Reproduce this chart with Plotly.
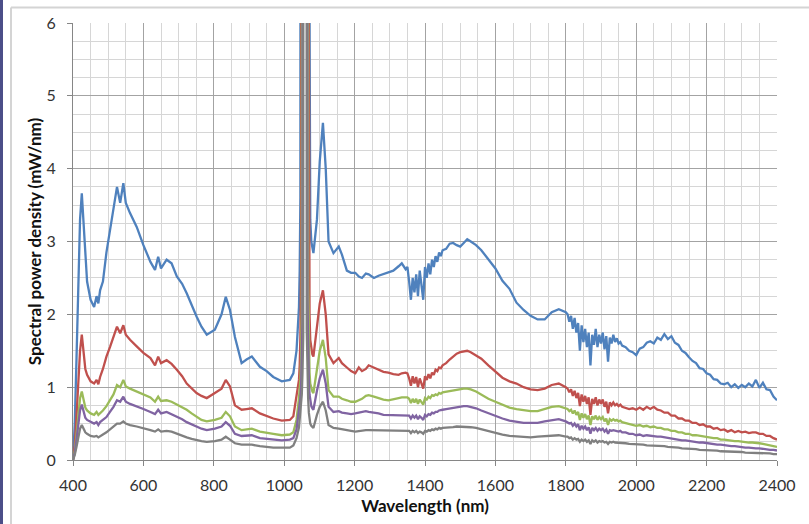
import plotly.graph_objects as go

# Wavelength samples (nm)
wavelength_nm = [
    400, 405, 410, 415, 420, 425, 430, 435, 440, 450,
    460, 467, 472, 477, 485, 495, 505, 515, 525, 534,
    543, 550, 562, 581, 600, 620, 633, 642, 650, 666,
    680, 695, 710, 723, 737, 751, 765, 780, 803, 822,
    834, 846, 860, 879, 893, 908, 931, 950, 969, 993,
    1016, 1026, 1035, 1042,
    1044, 1046, 1048, 1050, 1052, 1054, 1056, 1058, 1060, 1062,
    1064, 1066, 1068, 1070, 1072, 1074, 1077, 1080, 1083,
    1093, 1101, 1110, 1118, 1126, 1140, 1155, 1164, 1178, 1190,
    1202, 1212, 1221, 1232, 1240, 1255, 1268, 1282, 1296, 1310,
    1325, 1334, 1345, 1350,
    1355, 1360, 1365, 1370, 1375, 1380, 1385, 1390, 1395, 1400,
    1405, 1410, 1415, 1420, 1425, 1430, 1435, 1440, 1445, 1450,
    1460, 1470, 1480, 1490, 1500, 1510, 1520, 1530, 1545, 1560,
    1580, 1600, 1620, 1640, 1660, 1680, 1700, 1720, 1740, 1760,
    1780, 1800,
    1805, 1810, 1815, 1820, 1825, 1830, 1835, 1840, 1845, 1850,
    1855, 1860, 1865, 1870, 1875, 1880, 1885, 1890, 1895, 1900,
    1905, 1910, 1915, 1920, 1925, 1930, 1935, 1940, 1945, 1950,
    1955, 1960,
    1970, 1980, 1990, 2000, 2010, 2020, 2030, 2040, 2050, 2060,
    2070, 2080, 2090, 2100, 2110, 2120, 2130, 2140, 2150, 2160,
    2170, 2180, 2190, 2200, 2210, 2220, 2230, 2240, 2250, 2260,
    2270, 2280, 2290, 2300, 2310, 2320, 2330, 2340, 2350, 2360,
    2370, 2380, 2390, 2400,
]

# Spectral power density (mW/nm), five measurements
series_blue = [
    0.0, 0.5, 1.4, 2.5, 3.3, 3.66, 3.2, 2.75, 2.45, 2.2,
    2.1, 2.25, 2.15, 2.33, 2.45, 2.85, 3.15, 3.45, 3.75, 3.53,
    3.8, 3.53, 3.39, 3.2, 2.95, 2.72, 2.61, 2.79, 2.63, 2.75,
    2.7, 2.52, 2.42, 2.29, 2.12, 1.97, 1.83, 1.72, 1.79, 2.0,
    2.24, 2.06, 1.69, 1.33, 1.38, 1.42, 1.28, 1.22, 1.14, 1.08,
    1.1, 1.19, 1.5, 2.1,
    2.6, 3.6, 40, 40, 40, 40, 40, 40, 40, 40,
    40, 40, 40, 40, 4.2, 3.3, 3.0, 2.9, 2.84,
    3.3, 4.1, 4.63, 4.0, 3.0, 2.84, 2.93, 2.82, 2.6, 2.57,
    2.57, 2.52, 2.5, 2.56, 2.55, 2.5, 2.53, 2.55, 2.57, 2.6,
    2.66, 2.7, 2.62, 2.65,
    2.45, 2.2, 2.5, 2.3, 2.55, 2.25, 2.6, 2.4, 2.2, 2.65,
    2.5, 2.7, 2.55, 2.75, 2.65, 2.8, 2.72, 2.85, 2.8, 2.88,
    2.9, 2.97, 2.98, 2.95, 2.93, 2.98, 3.03, 3.0, 2.95, 2.88,
    2.76, 2.63, 2.46, 2.35, 2.16, 2.06, 1.98, 1.93, 1.93, 2.03,
    2.07, 2.03,
    2.0, 1.9, 1.98, 1.8, 1.95, 1.75, 1.88, 1.5, 1.85, 1.62,
    1.8, 1.55, 1.75, 1.3, 1.72, 1.58, 1.8, 1.55, 1.72, 1.6,
    1.75, 1.52, 1.7, 1.35, 1.68, 1.6, 1.72, 1.62, 1.67, 1.6,
    1.62, 1.57,
    1.55, 1.5, 1.48, 1.44, 1.53, 1.55, 1.61, 1.63, 1.6, 1.68,
    1.65, 1.73, 1.66, 1.7, 1.61, 1.58, 1.5, 1.47, 1.41, 1.36,
    1.33, 1.26, 1.25, 1.19, 1.17, 1.11, 1.1, 1.05, 1.04, 1.06,
    1.0, 1.04, 0.99, 1.03, 1.0, 1.05, 1.01, 1.1, 0.99, 1.06,
    0.97, 0.96, 0.87, 0.82,
]

series_red = [
    0.0, 0.2, 0.6, 1.1, 1.5, 1.72, 1.45, 1.25, 1.17, 1.08,
    1.05, 1.1, 1.04, 1.14, 1.25, 1.42, 1.55, 1.68, 1.83, 1.74,
    1.85, 1.72, 1.65, 1.56, 1.47, 1.4, 1.3, 1.42, 1.33, 1.37,
    1.32, 1.24, 1.15, 1.05, 0.98, 0.92, 0.88, 0.85, 0.92, 0.98,
    1.1, 1.01, 0.75, 0.69, 0.7, 0.71, 0.64, 0.6, 0.57, 0.54,
    0.55, 0.6, 0.85, 1.1,
    1.3, 1.7, 2.6, 40, 40, 40, 40, 40, 40, 40,
    40, 40, 40, 3.0, 2.0, 1.65, 1.5, 1.45, 1.42,
    1.8, 2.15, 2.33, 2.0, 1.45, 1.33, 1.4, 1.33, 1.27, 1.22,
    1.19, 1.27, 1.22, 1.25, 1.3, 1.27, 1.24, 1.21, 1.2, 1.18,
    1.17, 1.19, 1.2, 1.19,
    1.12, 1.02, 1.15, 1.05, 1.14, 1.0, 1.12, 1.05, 0.98, 1.15,
    1.1, 1.18, 1.12, 1.2, 1.17, 1.24, 1.22, 1.27, 1.26, 1.3,
    1.33, 1.38, 1.42, 1.46, 1.48, 1.49, 1.5, 1.48, 1.44, 1.39,
    1.3, 1.21, 1.13, 1.08, 1.05, 1.0, 0.97, 0.96, 0.98, 1.03,
    1.05, 1.0,
    0.98, 0.93, 0.97, 0.88, 0.95, 0.85, 0.92, 0.74, 0.9, 0.8,
    0.88, 0.77, 0.86, 0.62, 0.84, 0.77, 0.86, 0.75, 0.83, 0.77,
    0.83, 0.73, 0.8, 0.64, 0.79, 0.75, 0.79, 0.75, 0.77, 0.74,
    0.76, 0.73,
    0.72, 0.7, 0.71, 0.69, 0.72, 0.69, 0.73, 0.7, 0.73, 0.69,
    0.68, 0.65, 0.65, 0.61, 0.61, 0.57, 0.57, 0.54, 0.54, 0.51,
    0.51, 0.48, 0.49, 0.46, 0.46, 0.43, 0.44, 0.41, 0.42, 0.39,
    0.41, 0.38, 0.4, 0.38, 0.39, 0.37, 0.38, 0.38, 0.36, 0.36,
    0.33, 0.33, 0.3, 0.28,
]

series_green = [
    0.0, 0.12, 0.35, 0.62, 0.85, 0.94, 0.82, 0.72, 0.68, 0.64,
    0.62, 0.66, 0.62, 0.64, 0.68, 0.74, 0.82, 0.9, 1.03, 1.0,
    1.1, 1.01, 0.98, 0.94, 0.9, 0.86, 0.8, 0.87, 0.81, 0.82,
    0.8, 0.76, 0.72, 0.69, 0.64, 0.59, 0.55, 0.53, 0.55, 0.58,
    0.66, 0.6, 0.46, 0.41, 0.42, 0.43, 0.39, 0.37, 0.36, 0.34,
    0.35, 0.38, 0.55, 0.85,
    0.95, 1.1, 1.4, 2.0, 40, 40, 40, 40, 40, 40,
    40, 40, 2.4, 1.6, 1.2, 1.05, 0.97, 0.94, 0.92,
    1.25, 1.5, 1.65, 1.4, 0.96, 0.87, 0.87, 0.84, 0.82, 0.8,
    0.8, 0.82, 0.84, 0.88, 0.89, 0.87, 0.85, 0.83, 0.82, 0.83,
    0.85, 0.86, 0.86, 0.86,
    0.84, 0.78, 0.84, 0.79, 0.84, 0.77, 0.83, 0.8, 0.76, 0.85,
    0.83, 0.87, 0.85, 0.89, 0.88, 0.9, 0.89, 0.92, 0.91, 0.93,
    0.94, 0.95, 0.96, 0.97, 0.97, 0.98, 0.98, 0.97, 0.94, 0.9,
    0.84, 0.8, 0.76, 0.72, 0.7, 0.68, 0.67, 0.67, 0.7, 0.73,
    0.74, 0.71,
    0.7, 0.67, 0.69, 0.64, 0.68, 0.62, 0.66, 0.55, 0.64, 0.58,
    0.63, 0.56, 0.61, 0.48, 0.6, 0.56, 0.61, 0.55, 0.59, 0.56,
    0.59, 0.53, 0.57, 0.48, 0.56, 0.54, 0.56, 0.54, 0.55, 0.53,
    0.54, 0.52,
    0.51, 0.49, 0.49, 0.47, 0.48, 0.46, 0.47, 0.45, 0.46, 0.44,
    0.44, 0.42, 0.42, 0.4, 0.4, 0.38, 0.38, 0.36, 0.36, 0.34,
    0.34, 0.33, 0.33, 0.31, 0.31, 0.3, 0.3, 0.28, 0.28, 0.27,
    0.27, 0.26, 0.26, 0.25, 0.25, 0.24, 0.24, 0.24, 0.23, 0.22,
    0.21, 0.2, 0.19, 0.18,
]

series_purple = [
    0.0, 0.1, 0.28, 0.5, 0.68, 0.76, 0.66, 0.58, 0.55, 0.52,
    0.5, 0.52, 0.48, 0.52, 0.55, 0.59, 0.66, 0.73, 0.82, 0.8,
    0.87, 0.8, 0.77, 0.73, 0.7, 0.66, 0.63, 0.69, 0.64, 0.66,
    0.63, 0.6, 0.56, 0.52, 0.49, 0.46, 0.43, 0.41, 0.43, 0.46,
    0.52, 0.47, 0.36, 0.33, 0.33, 0.34, 0.3, 0.29, 0.28, 0.27,
    0.28, 0.3, 0.42, 0.65,
    0.75, 0.85, 1.0, 1.3, 1.9, 40, 40, 40, 40, 40,
    40, 2.2, 1.5, 1.1, 0.9, 0.8, 0.74, 0.71, 0.69,
    0.95, 1.12, 1.24, 1.05, 0.73, 0.66, 0.67, 0.65, 0.64, 0.63,
    0.64, 0.65, 0.66, 0.67, 0.66, 0.65, 0.64, 0.62, 0.62, 0.61,
    0.61, 0.62, 0.62, 0.62,
    0.61, 0.57, 0.61, 0.58, 0.61, 0.56, 0.6, 0.58, 0.55, 0.62,
    0.6, 0.63, 0.62, 0.65, 0.64, 0.66, 0.66, 0.68, 0.68, 0.69,
    0.7, 0.71, 0.72, 0.73, 0.74, 0.74, 0.74, 0.73, 0.71, 0.68,
    0.64, 0.6, 0.57, 0.54, 0.52, 0.51, 0.51, 0.51, 0.53, 0.55,
    0.56, 0.53,
    0.52, 0.5, 0.51, 0.47, 0.5, 0.46, 0.49, 0.41, 0.47, 0.43,
    0.46, 0.41, 0.45, 0.36, 0.44, 0.41, 0.44, 0.4, 0.43, 0.41,
    0.43, 0.39, 0.42, 0.36, 0.41, 0.4, 0.41, 0.4, 0.4, 0.39,
    0.4, 0.38,
    0.38, 0.36, 0.36, 0.34, 0.35, 0.33, 0.34, 0.33, 0.33, 0.32,
    0.32, 0.31, 0.31, 0.29, 0.29, 0.28, 0.27, 0.27, 0.26, 0.25,
    0.25, 0.24, 0.24, 0.23, 0.22, 0.22, 0.21, 0.21, 0.2, 0.2,
    0.19, 0.19, 0.18, 0.18, 0.17, 0.17, 0.16, 0.16, 0.16, 0.15,
    0.15, 0.14, 0.14, 0.13,
]

series_gray = [
    0.0, 0.07, 0.18, 0.32, 0.43, 0.48, 0.42, 0.38, 0.36, 0.33,
    0.32, 0.33, 0.31, 0.33, 0.35, 0.38, 0.42, 0.46, 0.5, 0.5,
    0.53, 0.5, 0.48, 0.46, 0.44, 0.41, 0.39, 0.42, 0.39, 0.4,
    0.39, 0.36, 0.34, 0.31, 0.29, 0.27, 0.26, 0.25, 0.26, 0.28,
    0.32, 0.28, 0.23, 0.21, 0.21, 0.21, 0.19, 0.18, 0.17, 0.17,
    0.17, 0.2, 0.3, 0.45,
    0.55, 0.62, 0.72, 0.9, 1.2, 1.7, 40, 40, 40, 40,
    1.8, 1.2, 0.85, 0.65, 0.55, 0.5, 0.47, 0.45, 0.44,
    0.62, 0.73, 0.8, 0.68, 0.48, 0.44, 0.43, 0.42, 0.41, 0.4,
    0.39, 0.4, 0.4, 0.41, 0.41, 0.41, 0.41, 0.41, 0.4, 0.4,
    0.4, 0.41, 0.4, 0.41,
    0.4, 0.37, 0.4, 0.38, 0.4, 0.37, 0.39, 0.38, 0.36, 0.4,
    0.39, 0.41, 0.4, 0.42, 0.41, 0.43, 0.42, 0.44, 0.43, 0.44,
    0.44, 0.45, 0.45, 0.46, 0.46, 0.46, 0.46, 0.45, 0.44, 0.42,
    0.4, 0.37, 0.35, 0.33, 0.32, 0.32, 0.31, 0.32, 0.33, 0.34,
    0.34, 0.32,
    0.32, 0.3, 0.31, 0.28, 0.3, 0.28, 0.29, 0.25, 0.28, 0.26,
    0.28, 0.25, 0.27, 0.22, 0.27, 0.25, 0.27, 0.24, 0.26, 0.25,
    0.26, 0.24, 0.25, 0.22, 0.25, 0.24, 0.25, 0.24, 0.24, 0.23,
    0.24, 0.23,
    0.23, 0.22, 0.22, 0.21, 0.21, 0.21, 0.2, 0.2, 0.2, 0.2,
    0.19, 0.19, 0.18, 0.18, 0.17, 0.17, 0.16, 0.16, 0.16, 0.15,
    0.15, 0.14, 0.14, 0.14, 0.13, 0.13, 0.13, 0.12, 0.12, 0.12,
    0.11, 0.11, 0.11, 0.11, 0.1, 0.1, 0.1, 0.1, 0.1, 0.09,
    0.09, 0.09, 0.08, 0.08,
]

series_list = [series_blue, series_red, series_green, series_purple, series_gray]
series_colors = ["#4F81BD", "#C0504D", "#9BBB59", "#8064A2", "#808080"]
for s in series_list:
    assert len(s) == len(wavelength_nm), (len(s), len(wavelength_nm))

x_ticks = [400, 600, 800, 1000, 1200, 1400, 1600, 1800, 2000, 2200, 2400]
y_ticks = [0, 1, 2, 3, 4, 5, 6]

fig = go.Figure()
for vals, col in zip(series_list, series_colors):
    fig.add_trace(go.Scatter(x=wavelength_nm, y=vals, mode="lines",
                             line=dict(color=col, width=2.3), hoverinfo="skip"))

W, H = 809, 524
L, R, T, B = 73, 32, 23, 64
pw, ph = W - L - R, H - T - B


def px_x(p):
    return (p - L) / pw


def px_y(p):
    return (H - B - p) / ph


major = "#a3a3a3"
minor = "#d6d6d6"
axis_col = "#868686"
font_family = "Lato, 'Open Sans', sans-serif"

fig.update_layout(
    width=W, height=H,
    margin=dict(l=L, r=R, t=T, b=B, autoexpand=False),
    plot_bgcolor="white", paper_bgcolor="white",
    showlegend=False,
    font=dict(family=font_family, size=16, color="#333333"),
    xaxis=dict(
        range=[400, 2400], tickvals=x_ticks, showgrid=True, gridcolor=major, gridwidth=1,
        minor=dict(dtick=50, tick0=400, showgrid=True, gridcolor=minor, gridwidth=1, ticks=""),
        showline=True, linecolor=axis_col, linewidth=1, zeroline=False,
        ticks="outside", ticklen=5, tickcolor=axis_col, ticklabelstandoff=6,
        title=dict(text="<b>Wavelength (nm)</b>", font=dict(size=17, color="#111111"), standoff=6),
        automargin=False, fixedrange=True,
    ),
    yaxis=dict(
        range=[0, 6], tickvals=y_ticks, showgrid=True, gridcolor=major, gridwidth=1,
        minor=dict(dtick=0.25, tick0=0, showgrid=True, gridcolor=minor, gridwidth=1, ticks=""),
        showline=True, linecolor=axis_col, linewidth=1, zeroline=False,
        ticks="outside", ticklen=5, tickcolor=axis_col, ticklabelstandoff=8,
        title=dict(text="<b>Spectral power density (mW/nm)</b>", font=dict(size=17, color="#111111"), standoff=0),
        automargin=False, fixedrange=True,
    ),
    shapes=[
        dict(type="rect", xref="paper", yref="paper", x0=px_x(0), x1=px_x(3),
             y0=px_y(H), y1=px_y(0), fillcolor="#4b4e88", line=dict(width=0)),
        dict(type="line", xref="paper", yref="paper", x0=px_x(11), x1=px_x(11),
             y0=px_y(7.5), y1=px_y(H), line=dict(color="#d4d4d4", width=2)),
        dict(type="line", xref="paper", yref="paper", x0=px_x(11), x1=px_x(W),
             y0=px_y(7.5), y1=px_y(7.5), line=dict(color="#d4d4d4", width=2)),
    ],
)

fig.write_html("out.html", config={"displayModeBar": False},
               post_script="document.body.style.margin='0';")
